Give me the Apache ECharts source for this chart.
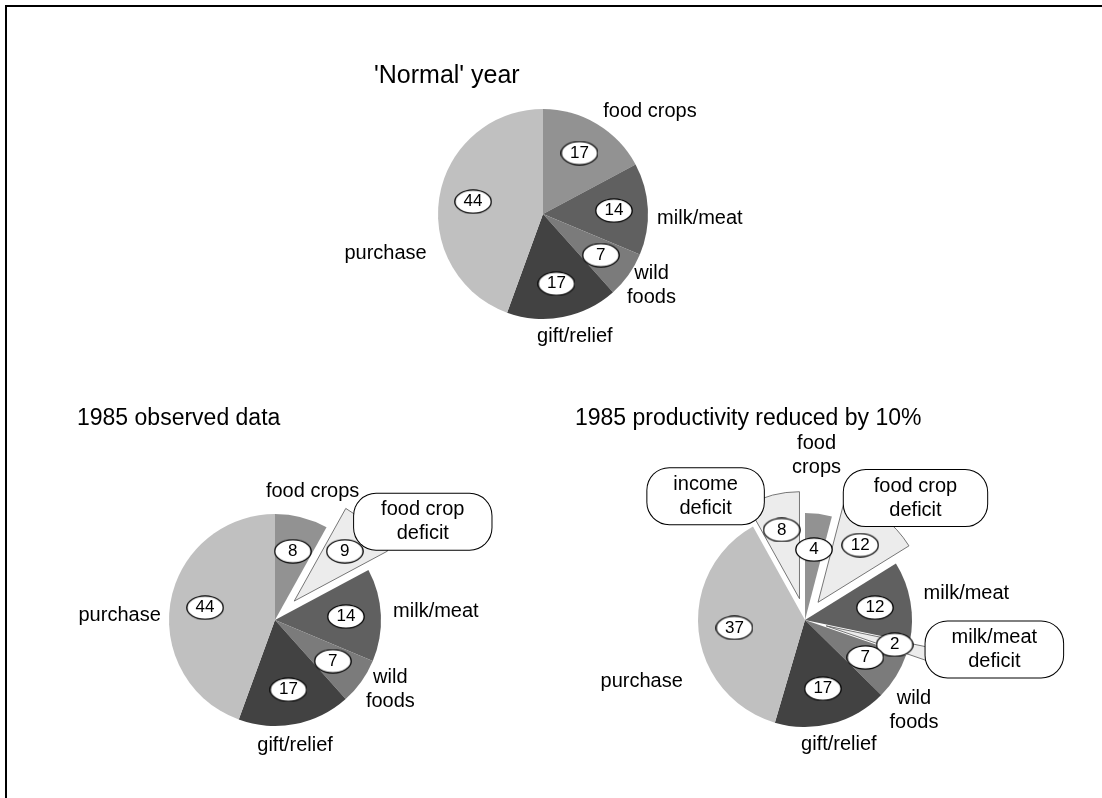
<!DOCTYPE html>
<html><head><meta charset="utf-8">
<script src="https://cdn.jsdelivr.net/npm/echarts@6/dist/echarts.min.js"></script>
<style>
html,body{margin:0;padding:0;background:#fff;}
#chart{position:absolute;left:0;top:0;width:1102px;height:798px;}
#frame{position:absolute;left:5px;top:5px;right:0;bottom:0;border-top:2px solid #000;border-left:2px solid #000;pointer-events:none;}
</style></head><body>
<div id="chart"></div><div id="frame"></div>
<script>
// ---- data ----
const titles = ["'Normal' year", "1985 observed data", "1985 productivity reduced by 10%"];

const categoriesNormal = ['food crops', 'milk/meat', 'wild foods', 'gift/relief', 'purchase'];
const valuesNormal = [17, 14, 7, 17, 44];
const labelsNormal = ['food crops', 'milk/meat', 'wild\nfoods', 'gift/relief', 'purchase'];

const categories1985 = ['food crops', 'food crop deficit', 'milk/meat', 'wild foods', 'gift/relief', 'purchase'];
const values1985 = [8, 9, 14, 7, 17, 44];
const labels1985 = ['food crops', 'food crop\ndeficit', 'milk/meat', 'wild\nfoods', 'gift/relief', 'purchase'];

const categoriesReduced = ['food crops', 'food crop deficit', 'milk/meat', 'milk/meat deficit', 'wild foods', 'gift/relief', 'purchase', 'income deficit'];
const valuesReduced = [4, 12, 12, 2, 7, 17, 37, 8];
const labelsReduced = ['food\ncrops', 'food crop\ndeficit', 'milk/meat', 'milk/meat\ndeficit', 'wild\nfoods', 'gift/relief', 'purchase', 'income\ndeficit'];

// ---- style ----
const FONT = '"Liberation Sans", Arial, Helvetica, sans-serif';
const sliceColors = {
  'food crops': '#929292',
  'milk/meat': '#606060',
  'wild foods': '#7b7b7b',
  'gift/relief': '#424242',
  'purchase': '#c0c0c0'
};
const deficitColor = '#ececec';

// elliptical badge used behind the value labels
const BADGE_W = 38, BADGE_H = 25;
const badge = document.createElement('canvas');
badge.width = BADGE_W; badge.height = BADGE_H;
(function () {
  const g = badge.getContext('2d');
  g.beginPath();
  g.ellipse(BADGE_W / 2, BADGE_H / 2, BADGE_W / 2 - 0.8, BADGE_H / 2 - 0.8, 0, 0, Math.PI * 2);
  g.fillStyle = '#fff'; g.fill();
  g.lineWidth = 1.3; g.strokeStyle = '#000'; g.stroke();
})();

// label nudges (relative to library's placement), per slice
const nudgesNormal = [[53, -12], [52, 9], [23, 11], [12, 19], [-54, 58]];
const nudges1985 = [[11, -26], [53, -5], [55, -3], [29, 8], [0, 21], [-51, 14]];
const nudgesReduced = [[-2, -58], [34, -18], [56, -8], [65, -5], [18, 34], [7, 21], [-57, 50], [-67, 1]];
const calloutPad = {'food crop deficit': [4, 27], 'milk/meat deficit': [4, 26], 'income deficit': [4, 26]};
const VALUE_RADIUS = 71;

function isDeficit(name) { return name.indexOf('deficit') >= 0; }

function makePie(cats, vals, labels, center, radius, offset, nudges, padOverride) {
  const dataA = cats.map((c, i) => {
    const def = isDeficit(c);
    const item = {
      name: c, value: vals[i], selected: def,
      itemStyle: def ? {color: deficitColor, borderColor: '#555', borderWidth: 0.8} : {color: sliceColors[c], borderWidth: 0},
      label: {formatter: labels[i]}
    };
    if (def) {
      item.label = {
        formatter: labels[i], backgroundColor: '#fff', borderColor: '#000', borderWidth: 1,
        borderRadius: 22, padding: (padOverride && padOverride[c]) || calloutPad[c]
      };
    }
    return item;
  });
  const dataB = cats.map((c, i) => ({name: c, value: vals[i], selected: isDeficit(c)}));
  const common = {
    type: 'pie', center: center, radius: [0, radius], startAngle: 90, clockwise: true,
    selectedMode: 'multiple', selectedOffset: offset, silent: true,
    avoidLabelOverlap: false, animation: false,
    emphasis: {disabled: true}
  };
  const A = Object.assign({}, common, {
    data: dataA,
    select: {itemStyle: {color: deficitColor, borderColor: '#555', borderWidth: 0.8}},
    label: {
      show: true, position: 'outside', fontFamily: FONT, fontSize: 20, lineHeight: 24,
      color: '#000', distanceToLabelLine: 0, align: 'center'
    },
    labelLine: {show: false, length: 0, length2: 0},
    labelLayout: function (p) {
      const n = nudges[p.dataIndex] || [0, 0];
      return {dx: n[0], dy: n[1], align: 'center', verticalAlign: 'middle'};
    }
  });
  const B = Object.assign({}, common, {
    data: dataB,
    itemStyle: {color: 'rgba(0,0,0,0)', borderWidth: 0},
    select: {itemStyle: {color: 'rgba(0,0,0,0)', borderWidth: 0}},
    label: {
      show: true, position: 'outside', formatter: '{c}', fontFamily: FONT, fontSize: 17,
      lineHeight: BADGE_H - 4, color: '#000', backgroundColor: {image: badge},
      width: BADGE_W - 8, padding: [2, 4], align: 'center', distanceToLabelLine: 0
    },
    labelLine: {show: false, length: VALUE_RADIUS - radius, length2: 0},
    labelLayout: function () { return {align: 'center', verticalAlign: 'middle'}; }
  });
  return [A, B];
}

const titleStyle = {fontFamily: FONT, fontSize: 23, fontWeight: 'normal', color: '#000'};

const option = {
  backgroundColor: '#fff',
  animation: false,
  title: [
    {text: titles[0], left: 374, top: 64, padding: 0, textStyle: Object.assign({}, titleStyle, {fontSize: 25})},
    {text: titles[1], left: 77, top: 407, padding: 0, textStyle: titleStyle},
    {text: titles[2], left: 575, top: 407, padding: 0, textStyle: titleStyle}
  ],
  series: [].concat(
    makePie(categoriesNormal, valuesNormal, labelsNormal, [543, 214], 105, 0, nudgesNormal),
    makePie(categories1985, values1985, labels1985, [275, 620], 106, 27, nudges1985),
    makePie(categoriesReduced, valuesReduced, labelsReduced, [805, 620], 107, 22, nudgesReduced, {'food crop deficit': [4, 30]})
  )
};

const chart = echarts.init(document.getElementById('chart'), null, {renderer: 'canvas'});
chart.setOption(option);
</script>
</body></html>
